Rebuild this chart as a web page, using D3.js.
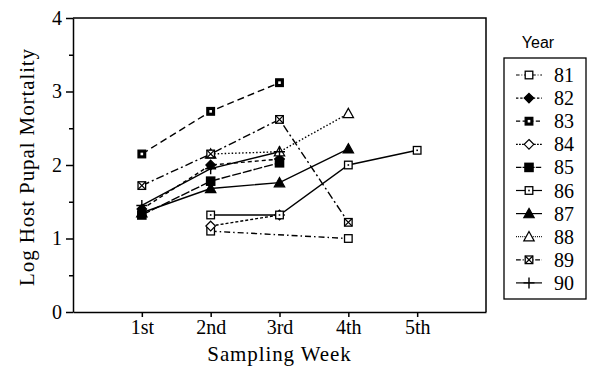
<!DOCTYPE html>
<html>
<head>
<meta charset="utf-8">
<script src="https://cdn.jsdelivr.net/npm/d3@7"></script>
<style>
  body { margin: 0; background: #fff; }
  svg { display: block; }
  .axis path, .axis line { stroke: #000; stroke-width: 1.5; }
  .axis text { font-family: "Liberation Serif", "Times New Roman", serif; font-size: 20px; fill: #000; }
  .title { font-family: "Liberation Serif", "Times New Roman", serif; font-size: 21px; letter-spacing: 0.9px; fill: #000; }
  .series { fill: none; stroke: #000; stroke-width: 1.4; }
</style>
</head>
<body>
<svg width="591" height="374"></svg>
<script>
// data
var weeks = ["1st", "2nd", "3rd", "4th", "5th"];
var years = ["81", "82", "83", "84", "85", "86", "87", "88", "89", "90"];

var y81 = [null, 1.10, null, 1.00, null];
var y82 = [1.40, 2.00, 2.08, null, null];
var y83 = [2.15, 2.73, 3.12, null, null];
var y84 = [null, 1.17, 1.32, null, null];
var y85 = [1.32, 1.78, 2.03, null, null];
var y86 = [null, 1.32, 1.32, 2.00, 2.20];
var y87 = [1.35, 1.68, 1.76, 2.22, null];
var y88 = [null, 2.15, 2.18, 2.70, null];
var y89 = [1.72, 2.15, 2.62, 1.22, null];
var y90 = [1.45, 1.95, 2.18, null, null];

var yTicks = [0, 1, 2, 3, 4];
var yMinor = [0.5, 1.5, 2.5, 3.5];

var values = [y81, y82, y83, y84, y85, y86, y87, y88, y89, y90];
var dashes = ["6,3,1.5,3", "4,3", "7,4", "3,2", "9,2", "none", "none", "1.5,2", "8,3,2,3", "none"];
var markers = ["square", "diamondFill", "squareDot", "diamond", "squareBig", "squareDot2", "triFill", "tri", "squareX", "plus"];

var svg = d3.select("svg"),
    margin = {top: 18, right: 105, bottom: 62, left: 73},
    width = +svg.attr("width") - margin.left - margin.right,
    height = +svg.attr("height") - margin.top - margin.bottom;

var x = d3.scaleLinear().domain([0, 6]).range([0, width]),
    y = d3.scaleLinear().domain([0, 4]).range([height, 0]);

var chart = svg.append("g")
    .attr("transform", "translate(" + margin.left + "," + margin.top + ")");

// frame (top and right)
chart.append("path")
    .attr("d", "M0,0H" + width + "V" + height)
    .attr("fill", "none")
    .attr("stroke", "#000")
    .attr("stroke-width", 1.5);

// x axis
chart.append("g")
    .attr("class", "axis")
    .attr("transform", "translate(0," + height + ")")
    .call(d3.axisBottom(x).tickValues([1, 2, 3, 4, 5]).tickSize(5).tickSizeOuter(0)
      .tickFormat(function(d) { return weeks[d - 1]; }));

// y axis
chart.append("g")
    .attr("class", "axis")
    .call(d3.axisLeft(y).tickValues(yTicks).tickSize(7).tickSizeOuter(0).tickFormat(d3.format("d")))
    .call(function(g) { g.selectAll("text").attr("x", -11); });

chart.append("g")
    .attr("class", "axis")
    .call(d3.axisLeft(y).tickValues(yMinor).tickSize(4).tickFormat(""))
    .call(function(g) { g.select(".domain").remove(); });

// axis titles
svg.append("text")
    .attr("class", "title")
    .attr("x", margin.left + x(3))
    .attr("y", 361)
    .attr("text-anchor", "middle")
    .text("Sampling Week");

svg.append("text")
    .attr("class", "title")
    .attr("transform", "translate(34," + (margin.top + height / 2 + 2) + ") rotate(-90)")
    .attr("text-anchor", "middle")
    .text("Log Host Pupal Mortality");

// marker drawing
function drawMarker(g, type, cx, cy) {
  var s = 3.8;
  if (type === "square" || type === "squareDot" || type === "squareDot2" || type === "squareX") {
    var fill = type === "squareDot" ? "#000" : "#fff";
    g.append("rect").attr("x", cx - s).attr("y", cy - s).attr("width", 2 * s).attr("height", 2 * s)
      .attr("fill", fill).attr("stroke", "#000").attr("stroke-width", 1.3);
    if (type === "squareDot") {
      g.append("rect").attr("x", cx - 1.3).attr("y", cy - 1.3).attr("width", 2.6).attr("height", 2.6).attr("fill", "#fff");
    }
    if (type === "squareDot2") {
      g.append("rect").attr("x", cx - 0.8).attr("y", cy - 0.8).attr("width", 1.6).attr("height", 1.6).attr("fill", "#000");
    }
    if (type === "squareX") {
      g.append("path").attr("d", "M" + (cx - s) + "," + (cy - s) + "L" + (cx + s) + "," + (cy + s) +
        "M" + (cx + s) + "," + (cy - s) + "L" + (cx - s) + "," + (cy + s))
        .attr("stroke", "#000").attr("stroke-width", 1.2);
    }
  } else if (type === "squareBig") {
    g.append("rect").attr("x", cx - 4.8).attr("y", cy - 4.8).attr("width", 9.6).attr("height", 9.6).attr("fill", "#000");
  } else if (type === "diamondFill" || type === "diamond") {
    var d = 4.8;
    g.append("path").attr("d", "M" + cx + "," + (cy - d) + "L" + (cx + d) + "," + cy + "L" + cx + "," + (cy + d) + "L" + (cx - d) + "," + cy + "Z")
      .attr("fill", type === "diamond" ? "#fff" : "#000").attr("stroke", "#000").attr("stroke-width", 1.2);
  } else if (type === "triFill" || type === "tri") {
    var t = 5.2;
    g.append("path").attr("d", "M" + cx + "," + (cy - t) + "L" + (cx + t) + "," + (cy + t * 0.8) + "L" + (cx - t) + "," + (cy + t * 0.8) + "Z")
      .attr("fill", type === "tri" ? "#fff" : "#000").attr("stroke", "#000").attr("stroke-width", 1.2);
  } else if (type === "plus") {
    var p = 5.5;
    g.append("path").attr("d", "M" + (cx - p) + "," + cy + "H" + (cx + p) + "M" + cx + "," + (cy - p) + "V" + (cy + p))
      .attr("stroke", "#000").attr("stroke-width", 1.4);
  }
}

// lines
var line = d3.line()
    .x(function(d) { return x(d.w); })
    .y(function(d) { return y(d.v); });

values.forEach(function(vals, i) {
  var pts = vals.map(function(v, j) { return {w: j + 1, v: v}; }).filter(function(d) { return d.v !== null; });
  chart.append("path")
      .attr("class", "series")
      .attr("stroke-dasharray", dashes[i])
      .attr("d", line(pts));
});

// markers on top
values.forEach(function(vals, i) {
  var g = chart.append("g").attr("class", "marks y" + years[i]);
  vals.forEach(function(v, j) {
    if (v !== null) drawMarker(g, markers[i], x(j + 1), y(v));
  });
});

// legend
svg.append("text")
    .attr("x", 538)
    .attr("y", 48)
    .attr("text-anchor", "middle")
    .attr("font-family", "Liberation Sans, Arial, sans-serif")
    .attr("font-size", 16)
    .text("Year");

var legend = svg.append("g").attr("transform", "translate(504,58)");
legend.append("rect")
    .attr("width", 82).attr("height", 241)
    .attr("fill", "none").attr("stroke", "#000").attr("stroke-width", 1.3);

years.forEach(function(yr, i) {
  var ly = 17 + i * 23.1;
  legend.append("line")
      .attr("x1", 12).attr("x2", 38).attr("y1", ly).attr("y2", ly)
      .attr("stroke", "#000").attr("stroke-width", 1.2)
      .attr("stroke-dasharray", dashes[i] === "none" ? null : dashes[i].split(",").map(function(n) { return +n * 0.6; }).join(","));
  drawMarker(legend, markers[i], 25, ly);
  legend.append("text")
      .attr("x", 50).attr("y", ly).attr("dy", "0.35em")
      .attr("font-family", "Liberation Serif, Times New Roman, serif")
      .attr("font-size", 20)
      .text(yr);
});
</script>
</body>
</html>
